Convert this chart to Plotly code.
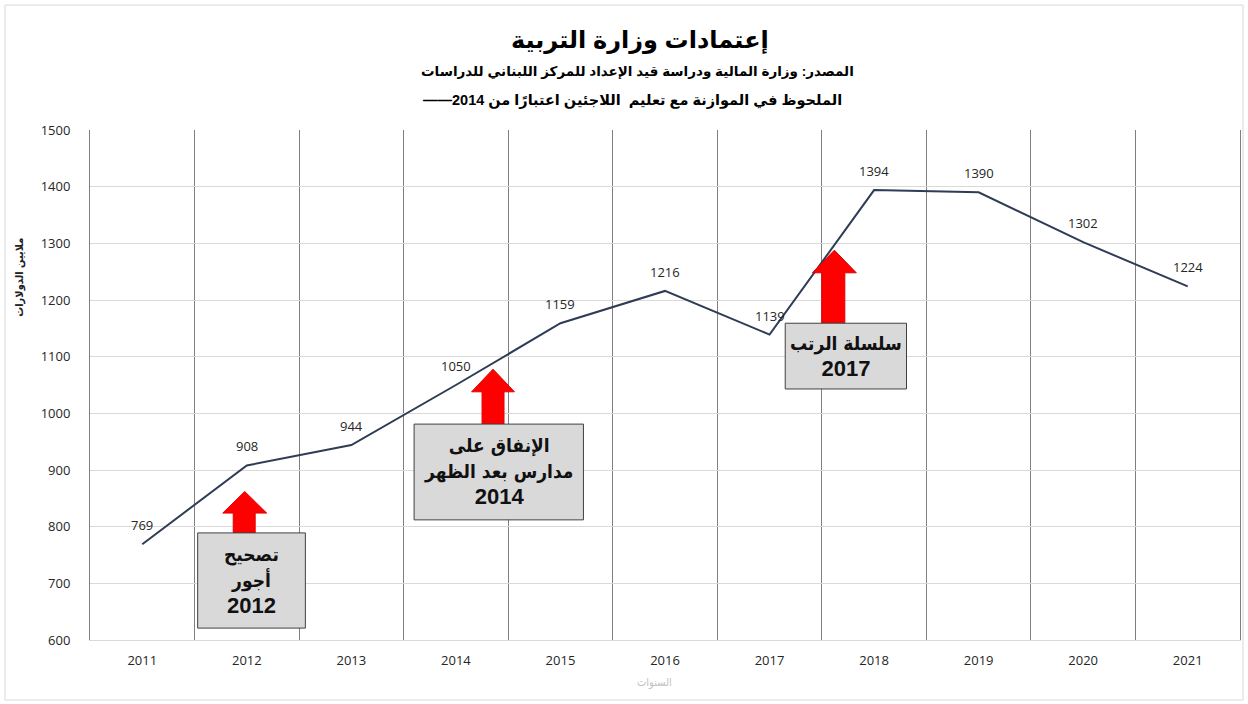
import plotly.graph_objects as go

years = [2011, 2012, 2013, 2014, 2015, 2016, 2017, 2018, 2019, 2020, 2021]
values = [769, 908, 944, 1050, 1159, 1216, 1139, 1394, 1390, 1302, 1224]
y_ticks = [600, 700, 800, 900, 1000, 1100, 1200, 1300, 1400, 1500]

title_text = "إعتمادات وزارة التربية"
subtitle_1 = "المصدر: وزارة المالية ودراسة قيد الإعداد للمركز اللبناني للدراسات"
subtitle_2 = "الملحوظ في الموازنة مع تعليم  اللاجئين اعتبارًا من 2014——\u200F"
y_title = "ملايين الدولارات"
x_title = "السنوات"

# callout boxes: (x0, x1, y0, y1, lines)
boxes = [
    (2011.53, 2012.56, 621, 789, ["تصحيح", "أجور", "2012"]),
    (2013.60, 2015.22, 812, 981, ["الإنفاق على", "مدارس بعد الظهر", "2014"]),
    (2017.15, 2018.31, 1043, 1159, ["سلسلة الرتب", "2017"]),
]
# arrows: (shaft_x0, shaft_x1, head_x0, head_x1, head_base_y, tip_y)
arrows = [
    (2011.87, 2012.08, 2011.77, 2012.19, 824, 862),
    (2014.25, 2014.46, 2014.15, 2014.56, 1038, 1078),
    (2017.50, 2017.72, 2017.41, 2017.83, 1248, 1288),
]

FONT = "Liberation Sans, DejaVu Sans, Arial, sans-serif"
AR_FONT = "DejaVu Sans Condensed, DejaVu Sans, sans-serif"
NUM_FONT = "Open Sans, Liberation Sans, sans-serif"

fig = go.Figure()
fig.add_trace(go.Scatter(
    x=years, y=values, mode="lines",
    line=dict(color="#2e3c56", width=2),
    hoverinfo="x+y", showlegend=False,
))

shapes = []
annotations = []

# data labels above each point
for yr, v in zip(years, values):
    annotations.append(dict(x=yr, y=v, xref="x", yref="y", text=str(v), showarrow=False,
                            yshift=19, font=dict(size=13, color="#262626", family=NUM_FONT)))

for (sx0, sx1, hx0, hx1, hb, tip), (bx0, bx1, by0, by1, _) in zip(arrows, boxes):
    base = by1
    path = (f"M {sx0} {base} L {sx0} {hb} L {hx0} {hb} L {(hx0 + hx1) / 2} {tip} "
            f"L {hx1} {hb} L {sx1} {hb} L {sx1} {base} Z")
    shapes.append(dict(type="path", path=path, xref="x", yref="y",
                       fillcolor="#ff0000", line=dict(color="#e00000", width=1), layer="above"))


def box_line(s):
    if s.isdigit():
        return f"<span style='font-family:Liberation Sans, Arial; font-size:22px'><b>{s}</b></span>"
    return f"<span style='font-family:DejaVu Sans Condensed, DejaVu Sans; font-size:19px'><b>{s}</b></span>"


for bx0, bx1, by0, by1, lines in boxes:
    shapes.append(dict(type="rect", x0=bx0, x1=bx1, y0=by0, y1=by1, xref="x", yref="y",
                       fillcolor="#d9d9d9", line=dict(color="#404040", width=1), layer="above"))
    annotations.append(dict(x=(bx0 + bx1) / 2, y=(by0 + by1) / 2, xref="x", yref="y",
                            text="<br>".join(box_line(l) for l in lines), showarrow=False,
                            font=dict(size=20, color="#111111", family=FONT),
                            align="center", yanchor="middle"))

# outer light frame
shapes.append(dict(type="rect", xref="paper", yref="paper", x0=-0.0739, x1=1.0026,
                   y0=-0.1176, y1=1.245, line=dict(color="#d9d9d9", width=1), layer="below"))

annotations += [
    dict(x=0.478, y=1.176, xref="paper", yref="paper", text=f"<b>{title_text}</b>",
         showarrow=False, yanchor="middle", font=dict(size=24, color="#000000", family=FONT)),
    dict(x=0.476, y=1.114, xref="paper", yref="paper", text=f"<b>{subtitle_1}</b>",
         showarrow=False, yanchor="middle", font=dict(size=13.5, color="#000000", family=FONT)),
    dict(x=0.472, y=1.057, xref="paper", yref="paper", text=f"<b>{subtitle_2}</b>",
         showarrow=False, yanchor="middle", font=dict(size=14.5, color="#000000", family=FONT)),
    dict(x=-0.061, y=0.712, xref="paper", yref="paper", text=f"<b>{y_title}</b>",
         showarrow=False, textangle=-90, xanchor="center", yanchor="middle",
         font=dict(size=11, color="#222222", family=AR_FONT)),
    dict(x=0.491, y=-0.084, xref="paper", yref="paper", text=x_title,
         showarrow=False, yanchor="middle", font=dict(size=11, color="#bfbfbf", family=AR_FONT)),
]

fig.update_layout(
    width=1248, height=704,
    margin=dict(l=90, r=8, t=130, b=64),
    paper_bgcolor="white", plot_bgcolor="white",
    shapes=shapes, annotations=annotations,
    font=dict(family=FONT),
    xaxis=dict(
        range=[2010.5, 2021.5], tickmode="array", tickvals=years,
        ticktext=[str(y) for y in years], showgrid=False, zeroline=False,
        tickfont=dict(size=13, color="#262626", family=NUM_FONT),
        ticks="", ticklabelstandoff=8,
        showline=True, linecolor="#d9d9d9", linewidth=1,
        minor=dict(tickmode="linear", tick0=2010.5, dtick=1, showgrid=True,
                   gridcolor="#7f7f7f", gridwidth=1, ticks=""),
    ),
    yaxis=dict(
        range=[600, 1500], tickmode="array", tickvals=y_ticks,
        showgrid=True, gridcolor="#d9d9d9", gridwidth=1, zeroline=False,
        tickfont=dict(size=13, color="#262626", family=NUM_FONT),
        ticks="", ticklabelstandoff=16,
        showline=True, linecolor="#7f7f7f", linewidth=1, mirror=True,
    ),
)

fig.write_html("out.html")
